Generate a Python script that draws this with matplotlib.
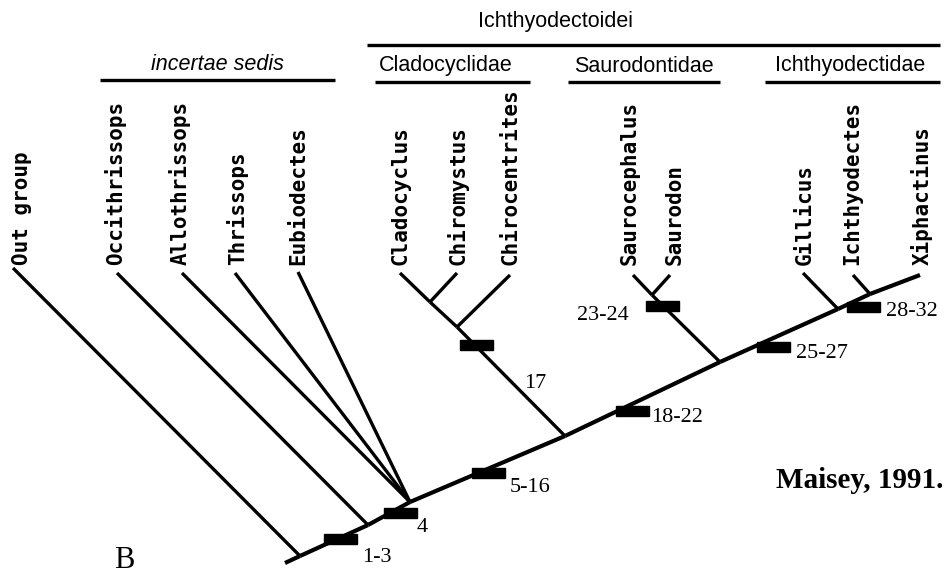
import matplotlib.pyplot as plt
from matplotlib.patches import Rectangle

# ---------------------------------------
# TREE DATA (pixel-like coordinates, y down)
# ---------------------------------------
node_names = ["root", "n_out", "n_occ", "n_incert", "n_clado", "n_chiro", "n_chirocen",
              "n_sauro", "n_saurodon", "n_gill", "n_ichth",
              "Out group", "Occithrissops", "Allothrissops", "Thrissops", "Eubiodectes",
              "Cladocyclus", "Chiromystus", "Chirocentrites", "Saurocephalus", "Saurodon",
              "Gillicus", "Ichthyodectes", "Xiphactinus"]
node_x = [285, 300, 368, 410, 565, 430, 457, 720, 652, 838, 870,
          13, 117, 182, 235, 298, 400, 457, 510, 633, 670, 803, 853, 920]
node_y = [563, 556, 525, 502, 436, 302, 327, 362, 295, 309, 294,
          268, 273, 273, 273, 272, 273, 273, 275, 275, 275, 273, 275, 275]

# child -> parent
edges = [
    ("n_out", "root"), ("n_occ", "n_out"), ("n_incert", "n_occ"), ("n_clado", "n_incert"),
    ("n_sauro", "n_clado"), ("n_gill", "n_sauro"), ("n_ichth", "n_gill"), ("Xiphactinus", "n_ichth"),
    ("Out group", "n_out"), ("Occithrissops", "n_occ"),
    ("Allothrissops", "n_incert"), ("Thrissops", "n_incert"), ("Eubiodectes", "n_incert"),
    ("n_chirocen", "n_clado"), ("n_chiro", "n_chirocen"), ("Cladocyclus", "n_chiro"),
    ("Chiromystus", "n_chiro"), ("Chirocentrites", "n_chirocen"),
    ("n_saurodon", "n_sauro"), ("Saurocephalus", "n_saurodon"), ("Saurodon", "n_saurodon"),
    ("Gillicus", "n_gill"), ("Ichthyodectes", "n_ichth"),
]
spine = ["n_out", "n_occ", "n_incert", "n_clado", "n_sauro", "n_gill", "n_ichth", "Xiphactinus"]

# taxon labels
taxa = ["Out group", "Occithrissops", "Allothrissops", "Thrissops", "Eubiodectes",
        "Cladocyclus", "Chiromystus", "Chirocentrites", "Saurocephalus", "Saurodon",
        "Gillicus", "Ichthyodectes", "Xiphactinus"]
taxa_label_x = [22, 115, 180, 237, 298, 400, 458, 510, 630, 675, 805, 852, 922]

# character-state bars
char_labels = ["1-3", "4", "5-16", "17", "18-22", "23-24", "25-27", "28-32"]
bar_x = [340, 400, 488, 476, 632, 662, 773, 863]
bar_y = [539, 513, 473, 345, 411, 306, 347, 307]
char_text_x = [377, 422, 530, 535, 677, 603, 822, 912]
char_text_y = [557, 528, 488, 383, 417, 315, 353, 312]

# group headers
groups = ["incertae sedis", "Cladocyclidae", "Saurodontidae", "Ichthyodectidae", "Ichthyodectoidei"]
group_x0 = [100, 375, 568, 765, 367]
group_x1 = [335, 530, 720, 940, 940]
group_text_x = [217, 446, 644, 850, 555]
group_line_y = [80, 82, 82, 82, 45]
group_text_y = [64, 66, 66, 66, 21]
group_italic = [True, False, False, False, False]

pos = dict(zip(node_names, zip(node_x, node_y)))

fig = plt.figure(figsize=(9.47, 5.74), dpi=100)
ax = fig.add_axes([0, 0, 1, 1])
ax.set_xlim(0, 947)
ax.set_ylim(574, 0)
ax.axis("off")

# branches
for child, parent in edges:
    (x0, y0), (x1, y1) = pos[child], pos[parent]
    lw = 3.0 if child in spine else 2.4
    ax.plot([x0, x1], [y0, y1], color="black", lw=lw, solid_capstyle="butt")

# taxon names
for name, tx in zip(taxa, taxa_label_x):
    ax.text(tx, 265, name, rotation=90, ha="center", va="bottom",
            family="DejaVu Sans Mono", fontsize=15, fontweight="bold", color="black")

# character bars
for bx, by in zip(bar_x, bar_y):
    ax.add_patch(Rectangle((bx - 16, by - 5), 33, 10, color="black", zorder=3))
for lab, tx, ty in zip(char_labels, char_text_x, char_text_y):
    ax.text(tx, ty, lab, ha="center", va="center", family="Liberation Serif",
            fontsize=16, color="black")

# group headers
for g, x0, x1, tx, ly, ty, it in zip(groups, group_x0, group_x1, group_text_x,
                                     group_line_y, group_text_y, group_italic):
    ax.plot([x0, x1], [ly, ly], color="black", lw=2.4, solid_capstyle="butt")
    ax.text(tx, ty, g, ha="center", va="center", family="Liberation Sans",
            fontsize=15.5, style="italic" if it else "normal", color="black")

ax.text(943, 480, "Maisey, 1991.", ha="right", va="center", family="Liberation Serif",
        fontsize=21, fontweight="bold", color="black")
ax.text(124, 561, "B", ha="center", va="center", family="Liberation Serif",
        fontsize=22, color="black")

fig.savefig("out.png", dpi=100)
